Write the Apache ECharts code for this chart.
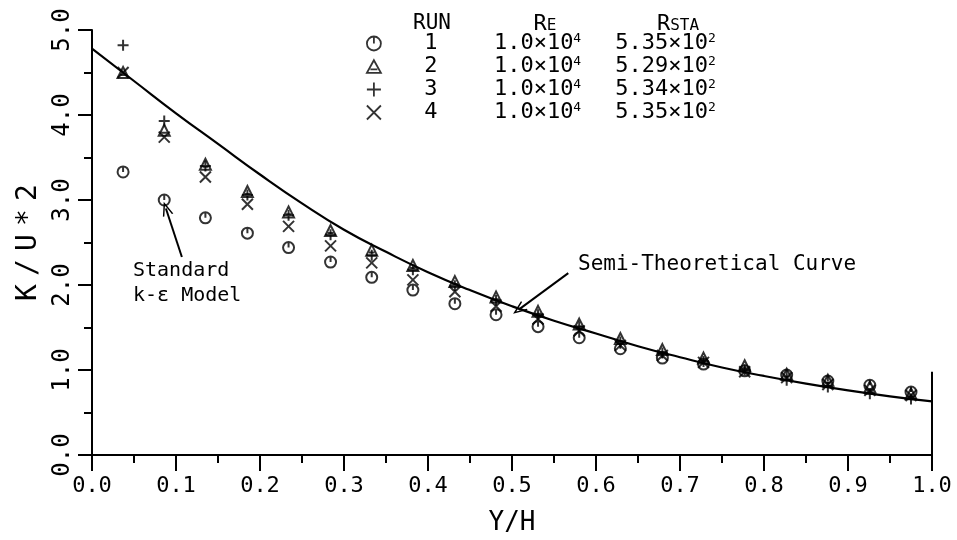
<!DOCTYPE html>
<html>
<head>
<meta charset="utf-8">
<script src="https://cdn.jsdelivr.net/npm/echarts@6/dist/echarts.min.js"></script>
<style>
  html, body { margin: 0; padding: 0; background: #fff; }
  #chart { width: 957px; height: 540px; }
</style>
</head>
<body>
<div id="chart"></div>
<script>
// Y/H station of each measurement
const yh = [0.037, 0.086, 0.135, 0.185, 0.234, 0.284, 0.333, 0.382, 0.432, 0.481,
            0.531, 0.580, 0.629, 0.679, 0.728, 0.777, 0.827, 0.876, 0.926, 0.975];
// K/U*2 for each run
const run1 = [3.33, 3.00, 2.79, 2.61, 2.44, 2.27, 2.09, 1.94, 1.78, 1.65,
              1.51, 1.38, 1.25, 1.14, 1.07, 0.99, 0.94, 0.87, 0.82, 0.74];
const run2 = [4.50, 3.82, 3.42, 3.10, 2.86, 2.64, 2.41, 2.23, 2.04, 1.86,
              1.69, 1.54, 1.37, 1.24, 1.14, 1.05, 0.95, 0.88, 0.80, 0.72];
const run3 = [4.82, 3.93, 3.40, 3.06, 2.82, 2.59, 2.35, 2.18, 1.99, 1.82,
              1.65, 1.51, 1.33, 1.20, 1.10, 1.00, 0.88, 0.80, 0.72, 0.66];
const run4 = [4.50, 3.74, 3.27, 2.95, 2.69, 2.46, 2.26, 2.06, 1.92, 1.75,
              1.60, 1.46, 1.29, 1.17, 1.09, 0.98, 0.91, 0.83, 0.76, 0.70];
// semi-theoretical curve
const curveX = [0, 0.05, 0.1, 0.15, 0.2, 0.25, 0.3, 0.35, 0.4, 0.45, 0.5,
                0.55, 0.6, 0.65, 0.7, 0.75, 0.8, 0.85, 0.9, 0.95, 1.0];
const curveY = [4.78, 4.40, 4.02, 3.66, 3.30, 2.96, 2.65, 2.39, 2.15, 1.94, 1.75,
                1.58, 1.43, 1.28, 1.15, 1.03, 0.93, 0.84, 0.76, 0.69, 0.63];
// legend table
const runNames = ['1', '2', '3', '4'];
const reVals = ['1.0×10|4', '1.0×10|4', '1.0×10|4', '1.0×10|4'];
const rstaVals = ['5.35×10|2', '5.29×10|2', '5.34×10|2', '5.35×10|2'];

const mono = '"DejaVu Sans Mono", monospace';
const symbols = [
  'path://M10,6A5,5,0,1,1,0,6A5,5,0,1,1,10,6ZM5,1L5,6',
  'path://M5,0L10,9L0,9ZM2.5,6.5L7.5,6.5',
  'path://M5,0L5,10M0,5L10,5',
  'path://M0,0L10,10M0,10L10,0'
];
const runs = [run1, run2, run3, run4];

const pts = arr => yh.map((x, i) => [x, arr[i]]);

const chart = echarts.init(document.getElementById('chart'));

const scatterSeries = runs.map((r, k) => ({
  name: runNames[k],
  type: 'scatter',
  data: pts(r),
  symbol: symbols[k],
  symbolSize: 11,
  itemStyle: { color: 'transparent', borderColor: '#000', borderWidth: 2 },
  z: 3
}));

const chevron = 'path://M0,10L5,0L10,10L8.6,10L5,2.8L1.4,10Z';

const option = {
  animation: false,
  backgroundColor: '#fff',
  grid: { left: 92, right: 25, top: 30, bottom: 85, outerBoundsMode: 'none', containLabel: false },
  xAxis: {
    type: 'value', min: 0, max: 1, interval: 0.1,
    name: 'Y/H', nameLocation: 'middle', nameGap: 55,
    nameTextStyle: { fontFamily: mono, fontSize: 26, color: '#000' },
    axisLine: { onZero: false, lineStyle: { color: '#000', width: 2 } },
    axisTick: { length: 16, lineStyle: { color: '#000', width: 2 } },
    minorTick: { show: true, splitNumber: 2, length: 8, lineStyle: { color: '#000', width: 2 } },
    splitLine: { show: false },
    axisLabel: { formatter: v => v.toFixed(1), fontFamily: mono, fontSize: 22, color: '#000', margin: 20 }
  },
  yAxis: {
    type: 'value', min: 0, max: 5, interval: 1,
    name: '{c|K}{c|/}{c|U}{c|*}{c|2}', nameLocation: 'middle', nameGap: 46, nameRotate: 90,
    nameTextStyle: { rich: { c: { fontFamily: mono, fontSize: 28, color: '#000', width: 25, align: 'center' } } },
    axisLine: { lineStyle: { color: '#000', width: 2 } },
    axisTick: { length: 14, lineStyle: { color: '#000', width: 2 } },
    minorTick: { show: true, splitNumber: 2, length: 8, lineStyle: { color: '#000', width: 2 } },
    splitLine: { show: false },
    axisLabel: { rotate: 90, formatter: v => v.toFixed(1), fontFamily: mono, fontSize: 24, color: '#000', margin: 17 }
  },
  legend: {
    orient: 'vertical', left: 366, top: 32, itemGap: 0, padding: 0,
    itemWidth: 14, itemHeight: 14,
    data: runNames,
    itemStyle: { color: 'transparent', borderColor: '#000', borderWidth: 1.8 },
    formatter: name => {
      const k = runNames.indexOf(name);
      const re = reVals[k].split('|');
      const rs = rstaVals[k].split('|');
      return '{n|' + name + '}{g1| }{re|' + re[0] + '}{sup|' + re[1] + '}{g| }{rs|' + rs[0] + '}{sup|' + rs[1] + '}';
    },
    textStyle: {
      rich: {
        n: { fontFamily: mono, fontSize: 22, color: '#000', width: 90, align: 'center', lineHeight: 21 },
        re: { fontFamily: mono, fontSize: 22, color: '#000', lineHeight: 21 },
        rs: { fontFamily: mono, fontSize: 22, color: '#000', lineHeight: 21 },
        sup: { fontFamily: mono, fontSize: 13, color: '#000', padding: [0, 0, 10, 0], lineHeight: 21 },
        g1: { width: 18, lineHeight: 21 },
        g: { width: 34, lineHeight: 21 }
      }
    }
  },
  graphic: [
    { type: 'text', style: { x: 432, y: 24, text: 'RUN', font: '21px ' + mono, fill: '#000', align: 'center', verticalAlign: 'middle' } },
    { type: 'text', style: { x: 545, y: 24, text: '{b|R}{s|E}', fill: '#000', align: 'center', verticalAlign: 'middle',
        rich: { b: { fontFamily: mono, fontSize: 22 }, s: { fontFamily: mono, fontSize: 16, padding: [3, 0, 0, 0] } } } },
    { type: 'text', style: { x: 678, y: 24, text: '{b|R}{s|STA}', fill: '#000', align: 'center', verticalAlign: 'middle',
        rich: { b: { fontFamily: mono, fontSize: 22 }, s: { fontFamily: mono, fontSize: 16, padding: [3, 0, 0, 0] } } } },
    { type: 'text', style: { x: 133, y: 271, text: 'Standard', font: '20px ' + mono, fill: '#000', verticalAlign: 'middle' } },
    { type: 'text', style: { x: 133, y: 296, text: 'k-ε Model', font: '20px ' + mono, fill: '#000', verticalAlign: 'middle' } },
    { type: 'text', style: { x: 578, y: 265, text: 'Semi-Theoretical Curve', font: '21px ' + mono, fill: '#000', verticalAlign: 'middle' } }
  ],
  series: [
    {
      name: 'curve',
      type: 'line',
      data: curveX.map((x, i) => [x, curveY[i]]),
      smooth: true,
      symbol: 'none',
      lineStyle: { color: '#000', width: 2.2 },
      z: 2,
      markLine: {
        silent: true,
        symbol: 'none',
        label: { show: false },
        lineStyle: { color: '#000', width: 2, type: 'solid' },
        data: [
          [{ coord: [1.0, 0] }, { coord: [1.0, 0.98] }],
          [{ coord: [0.107, 2.33], symbol: 'none' }, { coord: [0.088, 2.90], symbol: chevron, symbolSize: [11, 14] }],
          [{ coord: [0.567, 2.14], symbol: 'none' }, { coord: [0.508, 1.71], symbol: chevron, symbolSize: [11, 14] }]
        ]
      }
    }
  ].concat(scatterSeries)
};

chart.setOption(option);
</script>
</body>
</html>
